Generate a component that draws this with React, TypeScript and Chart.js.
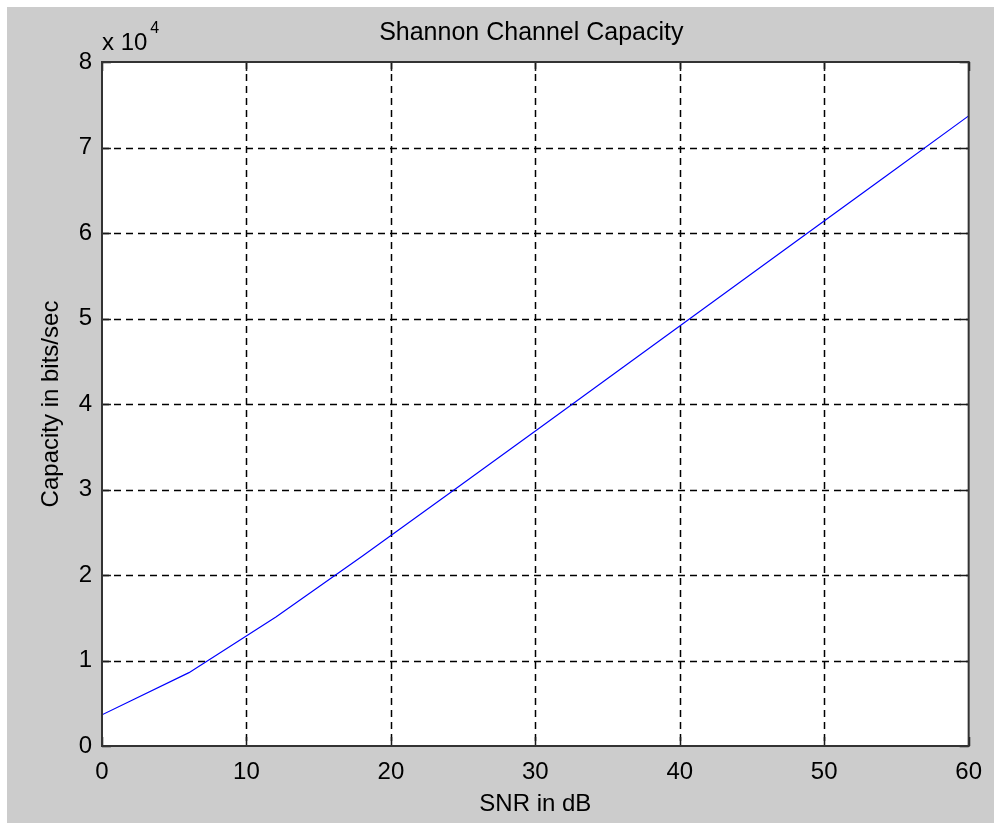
import React, { useEffect, useRef } from "react";
import { Chart, registerables } from "chart.js";

Chart.register(...registerables);

// ---- data ----
const snrDb = [0, 6.02, 12.04, 18.06, 24.08, 30.1, 36.12, 42.14, 48.16, 54.19, 60];
const capacity = [3650, 8580, 15100, 22250, 29600, 36950, 44350, 51750, 59150, 66550, 73700];
const xTicks = [0, 10, 20, 30, 40, 50, 60];
const yTicks = [0, 10000, 20000, 30000, 40000, 50000, 60000, 70000, 80000];
const titleText = "Shannon Channel Capacity";
const xLabel = "SNR in dB";
const yLabel = "Capacity in bits/sec";
const exponentBase = "x 10";
const exponentPower = "4";

const FONT = '"Liberation Sans", Arial, sans-serif';
const W = 987;
const H = 816;

const matlabPlugin = {
  id: "matlabLook",
  beforeDraw(chart: any) {
    const { ctx, chartArea: a } = chart;
    ctx.save();
    ctx.fillStyle = "#cccccc";
    ctx.fillRect(0, 0, chart.width, chart.height);
    ctx.fillStyle = "#ffffff";
    ctx.fillRect(a.left, a.top, a.right - a.left, a.bottom - a.top);
    ctx.restore();
  },
  beforeDatasetsDraw(chart: any) {
    const { ctx, chartArea: a, scales } = chart;
    const xs = scales.x;
    const ys = scales.y;
    ctx.save();
    ctx.strokeStyle = "#000000";
    ctx.lineWidth = 1.5;
    ctx.setLineDash([7, 5]);
    xTicks.slice(1, -1).forEach((v) => {
      const px = Math.round(xs.getPixelForValue(v)) + 0.5;
      ctx.beginPath();
      ctx.moveTo(px, a.top);
      ctx.lineTo(px, a.bottom);
      ctx.stroke();
    });
    yTicks.slice(1, -1).forEach((v) => {
      const py = Math.round(ys.getPixelForValue(v)) + 0.5;
      ctx.beginPath();
      ctx.moveTo(a.left, py);
      ctx.lineTo(a.right, py);
      ctx.stroke();
    });
    ctx.restore();
  },
  afterDatasetsDraw(chart: any) {
    const { ctx, chartArea: a, scales } = chart;
    const xs = scales.x;
    const ys = scales.y;
    const tl = 9;
    ctx.save();
    ctx.setLineDash([]);
    ctx.strokeStyle = "#1a1a1a";
    ctx.lineWidth = 1.5;
    xTicks.forEach((v) => {
      const px = Math.round(xs.getPixelForValue(v)) + 0.5;
      ctx.beginPath();
      ctx.moveTo(px, a.bottom);
      ctx.lineTo(px, a.bottom - tl);
      ctx.moveTo(px, a.top);
      ctx.lineTo(px, a.top + tl);
      ctx.stroke();
    });
    yTicks.forEach((v) => {
      const py = Math.round(ys.getPixelForValue(v)) + 0.5;
      ctx.beginPath();
      ctx.moveTo(a.left, py);
      ctx.lineTo(a.left + tl, py);
      ctx.moveTo(a.right, py);
      ctx.lineTo(a.right - tl, py);
      ctx.stroke();
    });
    ctx.strokeStyle = "#333333";
    ctx.lineWidth = 2;
    ctx.strokeRect(a.left, a.top, a.right - a.left, a.bottom - a.top);

    // title
    ctx.fillStyle = "#000000";
    ctx.font = `25px ${FONT}`;
    ctx.textAlign = "center";
    ctx.textBaseline = "middle";
    ctx.fillText(titleText, (a.left + a.right) / 2 - 4, 26);

    // exponent label
    ctx.font = `24px ${FONT}`;
    ctx.textAlign = "left";
    ctx.textBaseline = "alphabetic";
    ctx.fillText(exponentBase, a.left, 43);
    const w = ctx.measureText(exponentBase).width;
    ctx.font = `16px ${FONT}`;
    ctx.fillText(exponentPower, a.left + w + 3, 26);
    ctx.restore();
  },
};

export default function App() {
  const ref = useRef<HTMLCanvasElement | null>(null);

  useEffect(() => {
    if (!ref.current) return;
    const chart = new Chart(ref.current, {
      type: "line",
      data: {
        datasets: [
          {
            data: snrDb.map((x, i) => ({ x, y: capacity[i] })),
            borderColor: "#0000ff",
            borderWidth: 1.2,
            pointRadius: 0,
            tension: 0,
            fill: false,
          },
        ],
      },
      options: {
        animation: false,
        responsive: false,
        devicePixelRatio: 1,
        layout: { padding: { top: 55, right: 23, left: 0, bottom: 0 } },
        plugins: {
          legend: { display: false },
          title: { display: false },
          tooltip: { enabled: false },
        },
        scales: {
          x: {
            type: "linear",
            min: 0,
            max: 60,
            afterFit: (s: any) => {
              s.height = 77;
            },
            grid: { display: false, drawTicks: false },
            border: { display: false },
            ticks: {
              stepSize: 10,
              autoSkip: false,
              maxRotation: 0,
              padding: 12,
              color: "#000000",
              font: { family: FONT, size: 24 },
            },
            title: {
              display: true,
              text: xLabel,
              color: "#000000",
              font: { family: FONT, size: 24 },
              padding: { top: 0, bottom: 4 },
            },
          },
          y: {
            type: "linear",
            min: 0,
            max: 80000,
            afterFit: (s: any) => {
              s.width = 95;
            },
            grid: { display: false, drawTicks: false },
            border: { display: false },
            ticks: {
              stepSize: 10000,
              padding: 10,
              color: "#000000",
              font: { family: FONT, size: 24 },
              callback: (v: any) => String(Number(v) / 10000),
            },
            title: {
              display: true,
              text: yLabel,
              color: "#000000",
              font: { family: FONT, size: 24 },
              padding: { top: 30, bottom: 0 },
            },
          },
        },
      },
      plugins: [matlabPlugin],
    });
    return () => chart.destroy();
  }, []);

  return (
    <div style={{ position: "absolute", left: 7, top: 7, width: W, height: H }}>
      <canvas ref={ref} width={W} height={H} style={{ width: W, height: H, display: "block" }} />
    </div>
  );
}
